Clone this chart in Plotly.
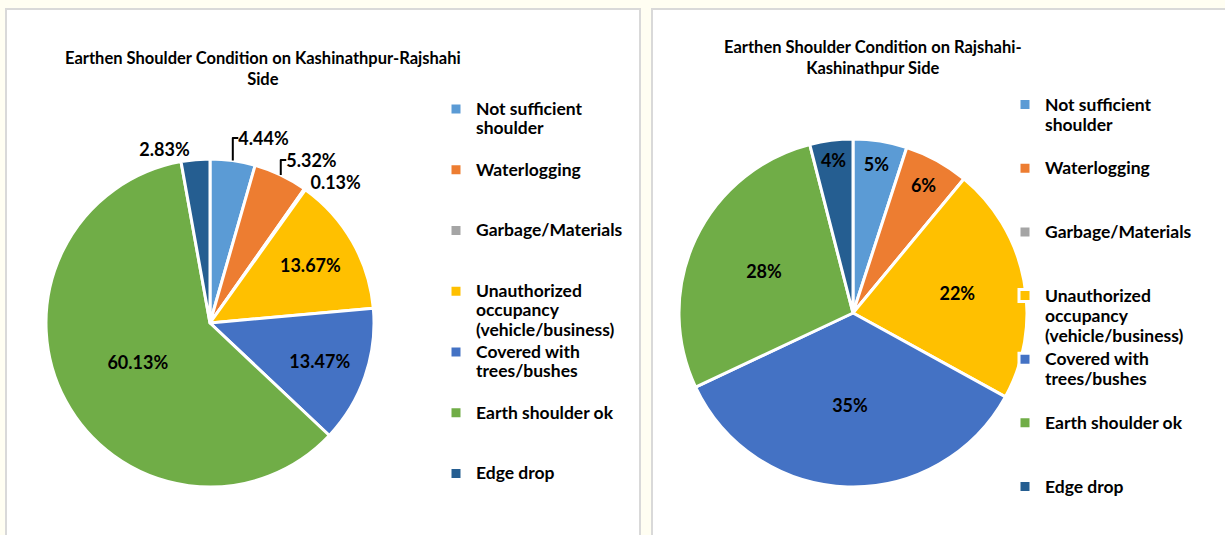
import plotly.graph_objects as go

categories = ["Not sufficient shoulder", "Waterlogging", "Garbage/Materials",
              "Unauthorized occupancy (vehicle/business)", "Covered with trees/bushes",
              "Earth shoulder ok", "Edge drop"]
legend_lines = [["Not sufficient", "shoulder"], ["Waterlogging"], ["Garbage/Materials"],
                ["Unauthorized", "occupancy", "(vehicle/business)"],
                ["Covered with", "trees/bushes"], ["Earth shoulder ok"], ["Edge drop"]]
left_values = [4.44, 5.32, 0.13, 13.67, 13.47, 60.13, 2.83]
right_values = [5, 6, 0, 22, 35, 28, 4]
colors = ["#5B9BD5", "#ED7D31", "#A5A5A5", "#FFC000", "#4472C4", "#70AD47", "#255E91"]
left_title = "Earthen Shoulder Condition on Kashinathpur-Rajshahi<br>Side"
right_title = "Earthen Shoulder Condition on Rajshahi-<br>Kashinathpur Side"

FONT = "Lato, sans-serif"
W, H = 1225, 535
TXT = 17.5  # visible legend text size


def legend_label(lines, n=3, tag=""):
    lines = [f"<span style='font-size:{TXT}px'>{s}</span>" for s in lines]
    return "<br>".join(lines + ["\u00a0"] * (n - len(lines))) + tag


# evenly spaced legend rows: pad every entry except the last to 3 lines;
# distinct (invisible) tags so each pie keeps its own legend
n_items = len(legend_lines)
left_labels = [legend_label(l, 3 if i < n_items - 1 else 1) for i, l in enumerate(legend_lines)]
right_labels = [legend_label(l, 3 if i < n_items - 1 else 1, "\u200b")
                for i, l in enumerate(legend_lines)]
left_text = [f"{v:.2f}%" for v in left_values]
right_text = [f"{v:g}%" for v in right_values]
left_pos = ["outside" if v < 10 else "inside" for v in left_values]
right_pos = ["inside" if v > 0 else "none" for v in right_values]


def px_domain(x0, x1, y0, y1):
    return dict(x=[x0 / W, x1 / W], y=[1 - y1 / H, 1 - y0 / H])


pie_font = dict(family=FONT, size=18, color="black", weight="bold")
fig = go.Figure()
fig.add_trace(go.Pie(
    labels=left_labels, values=left_values, text=left_text, textinfo="text",
    textposition=left_pos, insidetextorientation="horizontal",
    sort=False, direction="clockwise", rotation=0,
    marker=dict(colors=colors, line=dict(color="white", width=3)),
    textfont=pie_font,
    domain=px_domain(46, 374, 159, 487), legend="legend", hoverinfo="percent",
))
fig.add_trace(go.Pie(
    labels=right_labels, values=right_values, text=right_text, textinfo="text",
    textposition=right_pos, insidetextorientation="horizontal",
    sort=False, direction="clockwise", rotation=0,
    marker=dict(colors=colors, line=dict(color="white", width=3)),
    textfont=pie_font,
    domain=px_domain(679, 1027, 139, 487), legend="legend2", hoverinfo="percent",
))

legend_common = dict(bgcolor="rgba(0,0,0,0)", valign="top", traceorder="normal",
                     yanchor="top", xanchor="left")
fig.update_layout(
    width=W, height=H, margin=dict(l=0, r=0, t=0, b=0),
    paper_bgcolor="#FFFEF2", plot_bgcolor="white",
    legend=dict(x=436 / W, y=1 - 93 / H,
                font=dict(family=FONT, size=14.8, color="black", weight="bold"), **legend_common),
    legend2=dict(x=1005 / W, y=1 - 88 / H,
                 font=dict(family=FONT, size=15.55, color="black", weight="bold"), **legend_common),
    shapes=[
        dict(type="rect", xref="paper", yref="paper", x0=6 / W, x1=640 / W, y0=-0.05, y1=1 - 9 / H,
             fillcolor="white", line=dict(color="#D9D9D9", width=2), layer="below"),
        dict(type="rect", xref="paper", yref="paper", x0=652 / W, x1=1.05, y0=-0.05, y1=1 - 9 / H,
             fillcolor="white", line=dict(color="#D9D9D9", width=2), layer="below"),
    ],
    annotations=[
        dict(text=f"<b>{left_title}</b>", x=263 / W, y=1 - 46 / H, xref="paper", yref="paper",
             showarrow=False, xanchor="center", yanchor="top",
             font=dict(family=FONT, size=16.5, color="black")),
        dict(text=f"<b>{right_title}</b>", x=873 / W, y=1 - 35 / H, xref="paper", yref="paper",
             showarrow=False, xanchor="center", yanchor="top",
             font=dict(family=FONT, size=16.5, color="black")),
    ],
)
fig.write_html("out.html", config={"displayModeBar": False},
               post_script="document.body.style.margin='0';")
